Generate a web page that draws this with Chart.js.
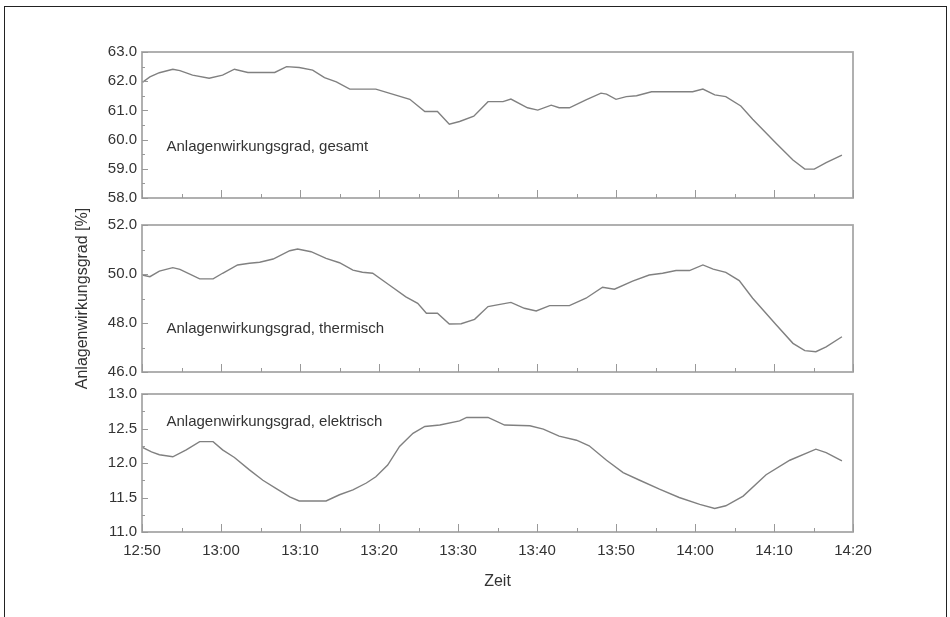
<!DOCTYPE html>
<html>
<head>
<meta charset="utf-8">
<script src="https://cdn.jsdelivr.net/npm/chart.js@4"></script>
<style>
  body { margin: 0; background: #fff; }
  #wrap { position: relative; width: 950px; height: 617px; overflow: hidden; background: #fff; }
  #frame { position: absolute; left: 4px; top: 6px; width: 941px; height: 640px; border: 1.5px solid #222; }
  canvas { position: absolute; left: 0; top: 0; }
</style>
</head>
<body>
<div id="wrap">
  <div id="frame"></div>
  <canvas id="panel1" width="950" height="617"></canvas>
  <canvas id="panel2" width="950" height="617"></canvas>
  <canvas id="panel3" width="950" height="617"></canvas>
</div>
<script>
// minutes after 12:50
const timesGesamt = [0, 1, 2.2, 3.9, 4.8, 6.4, 8.5, 10.2, 11.7, 13.4, 16.8, 18.3, 19.9, 21.6, 23.1, 24.6, 26.3, 29.6, 31.7, 33.9, 35.8, 37.4, 38.9, 40.2, 42.0, 43.8, 45.7, 46.7, 48.8, 50.1, 51.8, 52.8, 54.1, 56.2, 58.1, 58.8, 60.0, 61.3, 62.6, 64.5, 69.7, 71.0, 72.5, 73.9, 75.8, 77.3, 80.3, 82.4, 83.9, 85.1, 86.6, 88.6];
const gesamt = [61.95, 62.15, 62.29, 62.41, 62.36, 62.21, 62.1, 62.21, 62.41, 62.3, 62.3, 62.5, 62.47, 62.38, 62.12, 61.98, 61.73, 61.73, 61.56, 61.38, 60.96, 60.96, 60.53, 60.62, 60.8, 61.3, 61.3, 61.39, 61.09, 61.01, 61.18, 61.09, 61.09, 61.36, 61.59, 61.56, 61.38, 61.47, 61.5, 61.64, 61.64, 61.73, 61.53, 61.47, 61.15, 60.7, 59.87, 59.3, 58.99, 58.99, 59.21, 59.47];

const timesThermisch = [0, 1, 2.2, 3.9, 4.8, 7.3, 9.0, 10.2, 12.1, 13.6, 14.9, 16.6, 18.7, 19.7, 21.4, 23.3, 25.0, 26.7, 27.9, 29.2, 31.3, 33.4, 34.9, 36.0, 37.4, 38.9, 40.4, 42.1, 43.8, 44.8, 46.7, 48.4, 49.9, 51.6, 54.1, 56.2, 58.3, 59.8, 62.1, 64.2, 65.9, 67.6, 69.3, 71.0, 72.3, 73.9, 75.6, 77.3, 80.3, 82.4, 83.9, 85.3, 86.6, 88.6];
const thermisch = [49.96, 49.89, 50.12, 50.26, 50.19, 49.8, 49.8, 50.03, 50.37, 50.44, 50.48, 50.61, 50.95, 51.02, 50.91, 50.64, 50.46, 50.16, 50.07, 50.03, 49.55, 49.07, 48.8, 48.4, 48.4, 47.96, 47.97, 48.15, 48.67, 48.73, 48.84, 48.6, 48.49, 48.71, 48.71, 49.01, 49.46, 49.38, 49.71, 49.96, 50.03, 50.14, 50.14, 50.37, 50.2, 50.07, 49.73, 49.01, 47.92, 47.17, 46.87, 46.83, 47.03, 47.44];

const timesElektrisch = [0, 1.2, 2.2, 3.9, 5.6, 7.3, 9.0, 10.2, 11.7, 13.6, 15.3, 17.0, 18.7, 19.9, 23.3, 25.0, 26.7, 28.4, 29.6, 31.1, 32.6, 34.3, 35.8, 37.7, 40.2, 41.1, 43.8, 45.9, 49.1, 50.8, 52.8, 55.0, 56.6, 58.8, 60.9, 63.0, 65.5, 68.0, 70.6, 72.5, 73.9, 76.1, 79.0, 82.0, 85.3, 86.6, 88.6];
const elektrisch = [12.23, 12.16, 12.12, 12.09, 12.19, 12.31, 12.31, 12.19, 12.08, 11.9, 11.75, 11.63, 11.51, 11.45, 11.45, 11.54, 11.61, 11.71, 11.8, 11.97, 12.24, 12.43, 12.53, 12.55, 12.61, 12.66, 12.66, 12.55, 12.54, 12.49, 12.39, 12.33, 12.25, 12.04, 11.86, 11.75, 11.62, 11.5, 11.4, 11.34, 11.38, 11.52, 11.83, 12.04, 12.2, 12.15, 12.03];

const panelLabels = ['Anlagenwirkungsgrad, gesamt', 'Anlagenwirkungsgrad, thermisch', 'Anlagenwirkungsgrad, elektrisch'];
const yTitle = 'Anlagenwirkungsgrad [%]';
const xTitle = 'Zeit';
const startMinutes = 12 * 60 + 50;

Chart.defaults.font.family = '"Liberation Sans", Arial, sans-serif';
Chart.defaults.color = '#333';

const fmtTime = (v) => {
    const m = startMinutes + v;
    return Math.floor(m / 60) + ':' + String(m % 60).padStart(2, '0');
}

// box, inward tick marks and the panel caption
const panelFrame = {
    id: 'panelFrame',
    afterDraw(chart, args, opts) {
        const {ctx, chartArea: a, scales: {x, y}} = chart;
        ctx.save();
        ctx.strokeStyle = '#a8a8a8';
        ctx.lineWidth = 1.8;
        ctx.strokeRect(a.left, a.top, a.right - a.left, a.bottom - a.top);

        ctx.lineWidth = 1;
        ctx.strokeStyle = '#999';
        ctx.beginPath();
        for (let t = 0; t <= 90; t += 5) {
            const px = Math.round(x.getPixelForValue(t)) + 0.5;
            const len = t % 10 === 0 ? 8 : 4;
            ctx.moveTo(px, a.bottom);
            ctx.lineTo(px, a.bottom - len);
        }
        const n = Math.round((y.max - y.min) / opts.minorStep);
        for (let i = 0; i <= n; i++) {
            const v = y.min + i * opts.minorStep;
            const py = Math.round(y.getPixelForValue(v)) + 0.5;
            const len = i % 2 === 0 ? 6 : 3;
            ctx.moveTo(a.left, py);
            ctx.lineTo(a.left + len, py);
        }
        ctx.stroke();

        ctx.fillStyle = '#333';
        ctx.font = '15px "Liberation Sans", Arial, sans-serif';
        ctx.textBaseline = 'middle';
        ctx.textAlign = 'left';
        ctx.fillText(opts.text, x.getPixelForValue(opts.at[0]), y.getPixelForValue(opts.at[1]));
        ctx.restore();
    }
};

function makePanel(id, times, values, yMin, yMax, yStep, minorStep, label, labelAt, pad, isBottom, showYTitle) {
    const ctx = document.getElementById(id);
    return new Chart(ctx, {
        type: 'line',
        data: {
            datasets: [{
                data: times.map((t, i) => ({x: t, y: values[i]})),
                borderColor: '#808080',
                borderWidth: 1.4,
                pointRadius: 0,
                tension: 0,
                fill: false
            }]
        },
        options: {
            responsive: false,
            animation: false,
            layout: {
                padding: {top: pad[0], right: 97, bottom: pad[1], left: 0}
            },
            plugins: {
                legend: {display: false},
                tooltip: {enabled: false},
                panelFrame: {text: label, at: labelAt, minorStep: minorStep}
            },
            scales: {
                x: {
                    type: 'linear',
                    min: 0,
                    max: 90,
                    display: isBottom,
                    grid: {display: false, drawTicks: false},
                    border: {display: false},
                    ticks: {
                        stepSize: 10,
                        autoSkip: false,
                        maxRotation: 0,
                        padding: 10,
                        font: {size: 15},
                        callback: (v) => fmtTime(v)
                    },
                    title: {
                        display: isBottom,
                        text: xTitle,
                        font: {size: 16},
                        padding: {top: 0, bottom: 11}
                    },
                    afterFit: (scale) => { scale.height = isBottom ? 70 : 0; }
                },
                y: {
                    min: yMin,
                    max: yMax,
                    grid: {display: false, drawTicks: false},
                    border: {display: false},
                    ticks: {
                        stepSize: yStep,
                        autoSkip: false,
                        padding: 5,
                        font: {size: 15},
                        callback: (v) => Number(v).toFixed(1)
                    },
                    title: {
                        display: showYTitle,
                        text: yTitle,
                        font: {size: 16},
                        padding: {top: 73, bottom: 0}
                    },
                    afterFit: (scale) => { scale.width = 142; }
                }
            }
        },
        plugins: [panelFrame]
    });
}

// padding [top, bottom] places each panel's box on the shared page
makePanel('panel1', timesGesamt, gesamt, 58, 63, 1, 0.5, panelLabels[0], [3.1, 59.75], [52, 419], false, false);
makePanel('panel2', timesThermisch, thermisch, 46, 52, 2, 1, panelLabels[1], [3.1, 47.78], [225, 245], false, true);
makePanel('panel3', timesElektrisch, elektrisch, 11, 13, 0.5, 0.25, panelLabels[2], [3.1, 12.6], [394, 15], true, false);
</script>
</body>
</html>
